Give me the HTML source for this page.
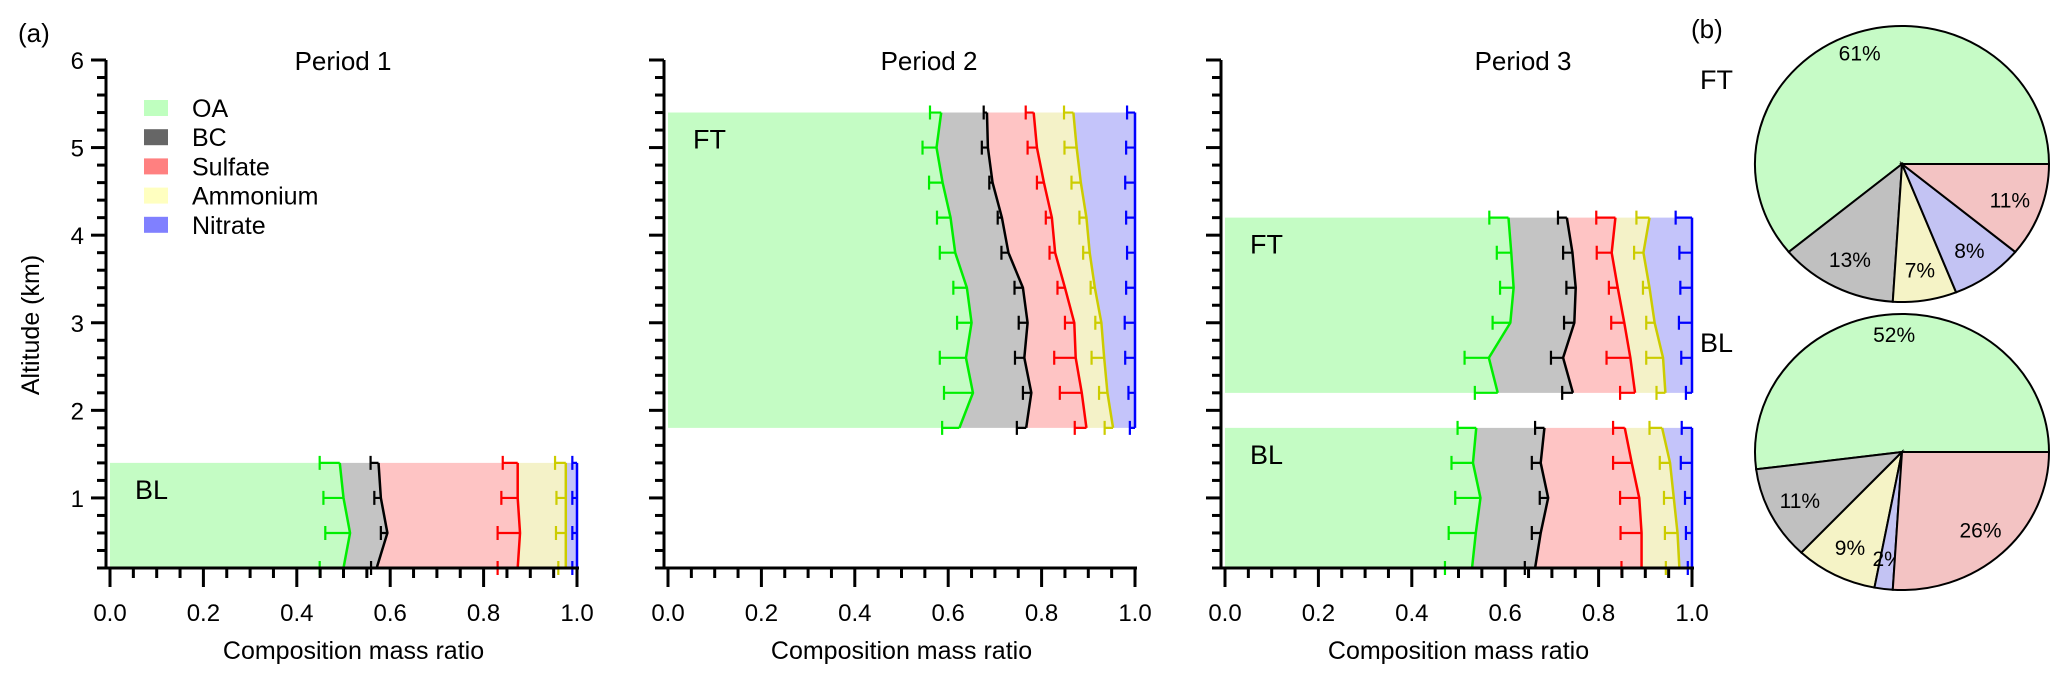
<!DOCTYPE html>
<html><head><meta charset="utf-8">
<style>
html,body{margin:0;padding:0;background:#fff;}
svg{display:block;font-family:"Liberation Sans",Arial,sans-serif;}
</style></head>
<body>
<svg id="fig" width="2067" height="681" viewBox="0 0 2067 681" xmlns="http://www.w3.org/2000/svg">
<text x="18" y="42" font-size="26">(a)</text>
<text x="1691" y="38" font-size="26">(b)</text>
<text x="39" y="325" font-size="25" text-anchor="middle" transform="rotate(-90 39 325)">Altitude (km)</text>
<g id="legend"></g>
<g id="panels"></g>
<g id="pies"></g>
</svg>
<script>
// ---------- DATA ----------
const species = ["OA","BC","Sulfate","Ammonium","Nitrate"];
const yTicks = [1,2,3,4,5,6];
const xTicks = [0.0,0.2,0.4,0.6,0.8,1.0];
const periodTitles = ["Period 1","Period 2","Period 3"];

// Period 1 BL
const p1BLalt = [1.4,1.0,0.6,0.2];
const p1BLoa  = [0.492,0.500,0.514,0.500];
const p1BLbc  = [0.575,0.580,0.594,0.571];
const p1BLsu  = [0.873,0.873,0.878,0.873];
const p1BLam  = [0.976,0.976,0.976,0.976];
const p1BLni  = [1.0,1.0,1.0,1.0];
const p1BLoaE = [0.449,0.457,0.461,0.449];
const p1BLbcE = [0.558,0.566,0.580,0.559];
const p1BLsuE = [0.841,0.838,0.830,0.830];
const p1BLamE = [0.953,0.956,0.955,0.960];
const p1BLniE = [0.990,0.990,0.990,0.990];

// Period 2 FT
const p2FTalt = [5.4,5.0,4.6,4.2,3.8,3.4,3.0,2.6,2.2,1.8];
const p2FToa  = [0.585,0.575,0.588,0.605,0.615,0.640,0.650,0.638,0.653,0.624];
const p2FTbc  = [0.683,0.685,0.695,0.715,0.729,0.760,0.770,0.763,0.778,0.767];
const p2FTsu  = [0.783,0.790,0.805,0.822,0.829,0.850,0.870,0.873,0.886,0.896];
const p2FTam  = [0.868,0.875,0.884,0.896,0.903,0.914,0.928,0.934,0.941,0.953];
const p2FTni  = [1,1,1,1,1,1,1,1,1,1];
const p2FToaE = [0.561,0.545,0.559,0.576,0.582,0.611,0.619,0.582,0.591,0.587];
const p2FTbcE = [0.676,0.672,0.688,0.706,0.714,0.742,0.751,0.743,0.760,0.747];
const p2FTsuE = [0.766,0.770,0.790,0.809,0.817,0.834,0.850,0.827,0.839,0.871];
const p2FTamE = [0.848,0.849,0.864,0.881,0.889,0.905,0.915,0.907,0.923,0.935];
const p2FTniE = [0.983,0.981,0.979,0.981,0.983,0.981,0.978,0.979,0.986,0.989];

// Period 3 FT
const p3FTalt = [4.2,3.8,3.4,3.0,2.6,2.2];
const p3FToa  = [0.607,0.613,0.618,0.611,0.565,0.584];
const p3FTbc  = [0.732,0.744,0.751,0.748,0.724,0.745];
const p3FTsu  = [0.836,0.828,0.841,0.855,0.868,0.878];
const p3FTam  = [0.909,0.896,0.909,0.920,0.938,0.943];
const p3FTni  = [1,1,1,1,1,1];
const p3FToaE = [0.566,0.582,0.589,0.573,0.513,0.535];
const p3FTbcE = [0.713,0.724,0.731,0.726,0.698,0.722];
const p3FTsuE = [0.795,0.796,0.822,0.827,0.817,0.846];
const p3FTamE = [0.881,0.876,0.895,0.902,0.902,0.924];
const p3FTniE = [0.965,0.973,0.975,0.972,0.977,0.987];

// Period 3 BL
const p3BLalt = [1.8,1.4,1.0,0.6,0.2];
const p3BLoa  = [0.538,0.531,0.547,0.537,0.529];
const p3BLbc  = [0.684,0.676,0.692,0.676,0.664];
const p3BLsu  = [0.856,0.871,0.887,0.892,0.892];
const p3BLam  = [0.936,0.953,0.961,0.969,0.973];
const p3BLni  = [1,1,1,1,1];
const p3BLoaE = [0.498,0.485,0.493,0.479,0.471];
const p3BLbcE = [0.664,0.657,0.674,0.657,0.642];
const p3BLsuE = [0.831,0.831,0.846,0.847,0.849];
const p3BLamE = [0.909,0.931,0.940,0.942,0.944];
const p3BLniE = [0.978,0.976,0.985,0.987,0.991];

// Pies (order: OA, BC, Ammonium, Nitrate, Sulfate)
const pieOrder = ["OA","BC","Ammonium","Nitrate","Sulfate"];
const pieFT = [61,13,7,8,11];
const pieBL = [52,11,9,2,26];

// ---------- STYLE ----------
const fillCol = {OA:"#c4fcc4",BC:"#c4c4c4",Sulfate:"#fec4c4",Ammonium:"#f4f2c8",Nitrate:"#c4c4fa"};
const lineCol = {OA:"#00ee00",BC:"#000000",Sulfate:"#ff0000",Ammonium:"#cccc00",Nitrate:"#0000ff"};
const legCol  = {OA:"#bfffbf",BC:"#666666",Sulfate:"#ff8080",Ammonium:"#ffffc0",Nitrate:"#8080ff"};
const pieCol  = {OA:"#c6fbc6",BC:"#c0c0c0",Sulfate:"#f3c3c3",Ammonium:"#f5f3c6",Nitrate:"#c3c3f3"};

const NS="http://www.w3.org/2000/svg";
function mk(tag, attrs, parent){const e=document.createElementNS(NS,tag);for(const k in attrs)e.setAttribute(k,attrs[k]);parent.appendChild(e);return e;}

const Y0=60, YKM=(568-60)/5.8;
function yS(a){return Y0+(6-a)*YKM;}
const panelX0=[110,668,1225], PW=467;
const titleX=[343,929,1523];

const panelsG=document.getElementById('panels');

const layers=[
 {name:"p1-bl",p:0,alt:p1BLalt,v:[p1BLoa,p1BLbc,p1BLsu,p1BLam,p1BLni],e:[p1BLoaE,p1BLbcE,p1BLsuE,p1BLamE,p1BLniE],label:"BL"},
 {name:"p2-ft",p:1,alt:p2FTalt,v:[p2FToa,p2FTbc,p2FTsu,p2FTam,p2FTni],e:[p2FToaE,p2FTbcE,p2FTsuE,p2FTamE,p2FTniE],label:"FT"},
 {name:"p3-ft",p:2,alt:p3FTalt,v:[p3FToa,p3FTbc,p3FTsu,p3FTam,p3FTni],e:[p3FToaE,p3FTbcE,p3FTsuE,p3FTamE,p3FTniE],label:"FT"},
 {name:"p3-bl",p:2,alt:p3BLalt,v:[p3BLoa,p3BLbc,p3BLsu,p3BLam,p3BLni],e:[p3BLoaE,p3BLbcE,p3BLsuE,p3BLamE,p3BLniE],label:"BL"}
];

for(let p=0;p<3;p++){
  const g=mk('g',{},panelsG);
  
  
  const x0=panelX0[p];
  const xS=v=>x0+v*PW;
  const t=mk('text',{x:titleX[p],y:70,'font-size':26,'text-anchor':'middle'},g);
  t.textContent=periodTitles[p];
  
  
  const plot=mk('g',{},g);
  
  
  layers.filter(L=>L.p===p).forEach(L=>{
    const lg=mk('g',{},plot);
    
    
    for(let s=0;s<5;s++){
      const up=L.v[s], lo=s>0?L.v[s-1]:null;
      let pts=[];
      L.alt.forEach((a,i)=>pts.push(xS(up[i])+','+yS(a)));
      for(let i=L.alt.length-1;i>=0;i--) pts.push((lo?xS(lo[i]):xS(0))+','+yS(L.alt[i]));
      const poly=mk('polygon',{points:pts.join(' '),fill:fillCol[species[s]]},lg);
      
      
    }
    for(let s=0;s<5;s++){
      const up=L.v[s];
      const pl=mk('polyline',{points:L.alt.map((a,i)=>xS(up[i])+','+yS(a)).join(' '),fill:'none',stroke:lineCol[species[s]],'stroke-width':2.5},lg);
      
      
      L.alt.forEach((a,i)=>{
        const xv=xS(up[i]), xe=xS(L.e[s][i]), yy=yS(a);
        const eb=mk('path',{d:`M${xv},${yy}H${xe}M${xe},${yy-7}V${yy+7}`,stroke:lineCol[species[s]],'stroke-width':2.2,fill:'none'},lg);
        
        
      });
    }
    const tl=mk('text',{x:x0+25,y:yS(L.alt[0])+36,'font-size':27},lg);
    tl.textContent=L.label;
    
    
  });
  const ax=mk('g',{stroke:'#000','stroke-width':3,fill:'none'},g);
  
  
  const axX=x0-4;
  mk('path',{d:`M${axX},${yS(6)}V568H${x0+PW+2}`},ax);
  for(let k=0;k<=29;k++){
    const a=6-k*0.2; const yy=yS(a);
    const major=Math.abs(a-Math.round(a))<1e-6;
    mk('path',{d:`M${axX},${yy}H${axX-(major?15:9)}`},ax);
  }
  for(let k=0;k<=20;k++){
    const xx=xS(k*0.05); const major=k%4===0;
    mk('path',{d:`M${xx},568V${568+(major?19:10)}`},ax);
  }
  if(p===0){
    yTicks.forEach(v=>{
      const tt=mk('text',{x:axX-22,y:yS(v)+9,'font-size':24,'text-anchor':'end'},g);
      tt.textContent=v;
      
      
    });
  }
  xTicks.forEach(v=>{
    const tt=mk('text',{x:xS(v),y:621,'font-size':24,'text-anchor':'middle'},g);
    tt.textContent=v.toFixed(1);
    
    
  });
  const xt=mk('text',{x:x0+PW/2+(p===0?10:0),y:659,'font-size':25,'text-anchor':'middle'},g);
  xt.textContent="Composition mass ratio";
  
  
}

const lgG=document.getElementById('legend');
species.forEach((s,i)=>{
  const yy=100+i*29.2;
  const r=mk('rect',{x:144,y:yy,width:24,height:16,fill:legCol[s]},lgG);
  
  
  const t=mk('text',{x:192,y:yy+17,'font-size':25},lgG);
  t.textContent=s;
  
  
});

const piesG=document.getElementById('pies');
const RX=147, RY=138;
function drawPie(vals,cx,cy,label,ly,name){
  const g=mk('g',{},piesG);
  
  
  const tot=vals.reduce((a,b)=>a+b,0);
  let acc=0;
  vals.forEach((v,i)=>{
    const a0=acc/tot*2*Math.PI, a1=(acc+v)/tot*2*Math.PI; acc+=v;
    const x0=cx+RX*Math.cos(a0), y0=cy-RY*Math.sin(a0);
    const x1=cx+RX*Math.cos(a1), y1=cy-RY*Math.sin(a1);
    const large=(a1-a0)>Math.PI?1:0;
    const sl=mk('path',{d:`M${cx},${cy}L${x0},${y0}A${RX},${RY} 0 ${large} 0 ${x1},${y1}Z`,fill:pieCol[pieOrder[i]],stroke:'#000','stroke-width':2},g);
    
    
    const am=(a0+a1)/2, rr=(v>40?0.85:0.78);
    const tx=cx+RX*rr*Math.cos(am), ty=cy-RY*rr*Math.sin(am)+7;
    const t=mk('text',{x:tx,y:ty,'font-size':21,'text-anchor':'middle'},g);
    t.textContent=v+"%";
    
    
  });
  const t=mk('text',{x:1700,y:ly,'font-size':27},g);
  t.textContent=label;
  
  
}
drawPie(pieFT,1902,164,"FT",89,"pie-ft");
drawPie(pieBL,1902,452,"BL",352,"pie-bl");
</script>
</body></html>
